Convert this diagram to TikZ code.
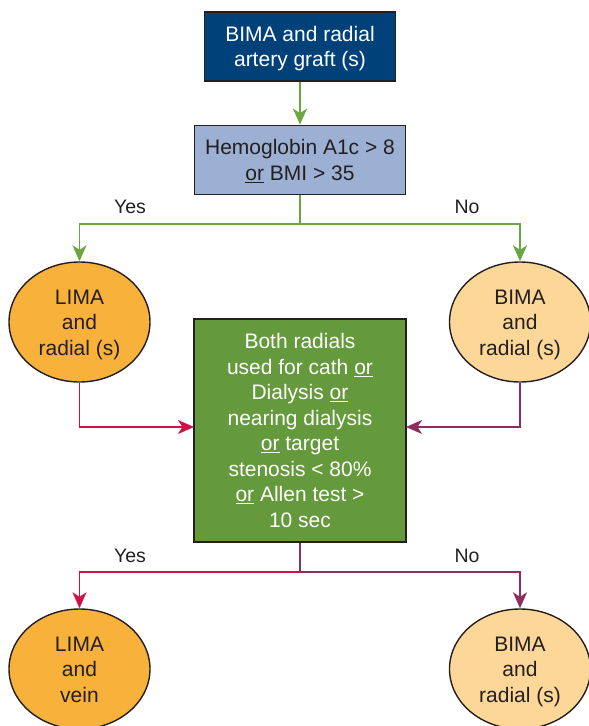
\documentclass[tikz,border=0pt]{standalone}
\usepackage{fontspec}
\setmainfont{Liberation Sans}
\usetikzlibrary{arrows.meta,shapes.geometric}
\definecolor{topblue}{HTML}{00417A}
\definecolor{lightblue}{HTML}{9CB0D3}
\definecolor{boxgreen}{HTML}{64993C}
\definecolor{arrgreen}{HTML}{6AA642}
\definecolor{orangef}{HTML}{F8B13A}
\definecolor{peach}{HTML}{FDD797}
\definecolor{crimson}{HTML}{CE1245}
\definecolor{maroon}{HTML}{8C2F5E}
\definecolor{edge}{HTML}{231F20}
\newcommand{\mystrut}{\rule[-5pt]{0pt}{25pt}}
\tikzset{
  txt/.style={font=\fontsize{21}{25.5}\selectfont, align=center, text=edge},
  rectbox/.style={txt, draw=edge, line width=1.8pt, inner sep=0pt},
  ovalbox/.style={txt, ellipse, draw=edge, line width=1.4pt, minimum width=141pt, minimum height=120pt, inner sep=0pt},
  conn/.style={line width=1.6pt, -{Stealth[length=16pt,width=14pt,inset=4.5pt]}},
  lbl/.style={font=\fontsize{19.5}{22}\selectfont, text=edge}
}
\begin{document}
\begin{tikzpicture}[x=1pt,y=-1pt]
\useasboundingbox (0,0) rectangle (589,726);
\node[rectbox, fill=topblue, text=white, minimum width=191pt, minimum height=69pt] (top) at (300,46.5) {\mystrut BIMA and radial\\artery graft (s)\mystrut};
\node[rectbox, fill=lightblue, minimum width=211pt, minimum height=69pt] (hba) at (300,160) {\mystrut Hemoglobin A1c > 8\\\underline{or} BMI > 35\mystrut};
\node[ovalbox, fill=orangef] (lr) at (79.5,322) {\mystrut LIMA\\and\\radial (s)\mystrut};
\node[ovalbox, fill=peach] (br) at (520,322) {\mystrut BIMA\\and\\radial (s)\mystrut};
\node[rectbox, fill=boxgreen, text=white, minimum width=212pt, minimum height=223pt] (crit) at (300,430.5) {\mystrut Both radials\\used for cath \underline{or}\\Dialysis \underline{or}\\nearing dialysis\\\underline{or} target\\stenosis < 80\%\\\underline{or} Allen test >\\10 sec\mystrut};
\node[ovalbox, fill=orangef] (lv) at (79.5,669) {\mystrut LIMA\\and\\vein\mystrut};
\node[ovalbox, fill=peach] (br2) at (520,669) {\mystrut BIMA\\and\\radial (s)\mystrut};
\coordinate (j1) at (300,224);
\coordinate (j2) at (300,572);
\coordinate (inl) at (194,427);
\coordinate (inr) at (406,427);
\draw[conn, arrgreen] (top) -- (hba);
\draw[line width=1.6pt, arrgreen] (hba.south) -- (j1);
\draw[conn, arrgreen] (j1) -| (lr.north);
\draw[conn, arrgreen] (j1) -| (br.north);
\draw[conn, crimson] (lr.south) |- (inl);
\draw[conn, maroon] (br.south) |- (inr);
\draw[line width=1.6pt, maroon] (crit.south) -- (j2);
\draw[conn, crimson] (j2) -| (lv.north);
\draw[conn, maroon] (j2) -| (br2.north);
\node[lbl] (y1) at (130,207) {Yes};
\node[lbl] (n1) at (467,207) {No};
\node[lbl] (y2) at (130,556) {Yes};
\node[lbl] (n2) at (467,556) {No};
\end{tikzpicture}
\end{document}
